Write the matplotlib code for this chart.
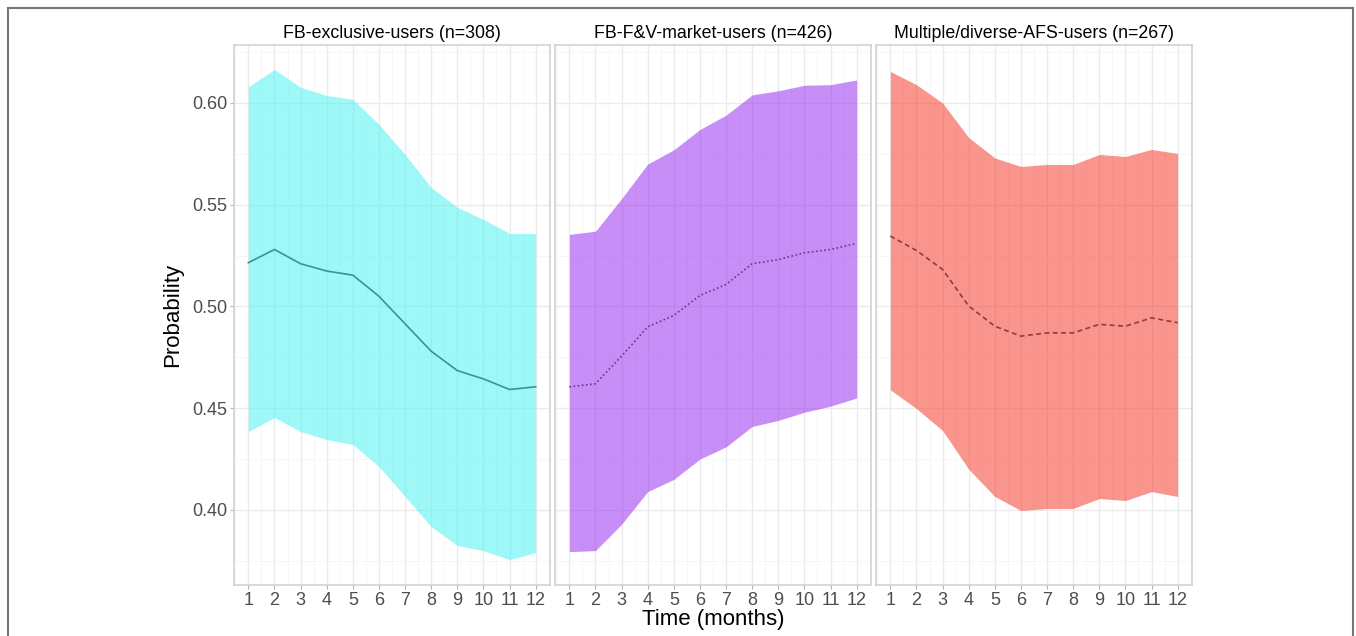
import numpy as np
import matplotlib.pyplot as plt
from matplotlib.patches import Rectangle
from matplotlib.ticker import MultipleLocator

plt.rcParams['font.family'] = ['Liberation Sans', 'DejaVu Sans']

months = list(range(1, 13))

titles = ["FB-exclusive-users (n=308)",
          "FB-F&V-market-users (n=426)",
          "Multiple/diverse-AFS-users (n=267)"]

# FB-exclusive
fb_mean = [0.5215, 0.528, 0.521, 0.5174, 0.5154, 0.505, 0.4915, 0.478, 0.4685, 0.4644, 0.4592, 0.4605]
fb_upper = [0.608, 0.6165, 0.6077, 0.6037, 0.6018, 0.5895, 0.5747, 0.5585, 0.5487, 0.5428, 0.5359, 0.5359]
fb_lower = [0.4385, 0.4454, 0.4385, 0.4346, 0.4322, 0.4213, 0.4066, 0.3918, 0.3825, 0.380, 0.3756, 0.379]

# FB-F&V-market
fv_mean = [0.4605, 0.462, 0.4756, 0.490, 0.4956, 0.5054, 0.5108, 0.521, 0.523, 0.5264, 0.528, 0.531]
fv_upper = [0.5354, 0.537, 0.553, 0.570, 0.577, 0.587, 0.594, 0.604, 0.606, 0.6087, 0.609, 0.6113]
fv_lower = [0.3795, 0.3800, 0.393, 0.409, 0.415, 0.425, 0.431, 0.441, 0.444, 0.448, 0.451, 0.455]

# Multiple/diverse AFS
md_mean = [0.5346, 0.5275, 0.5182, 0.5002, 0.4903, 0.4854, 0.487, 0.487, 0.4912, 0.4903, 0.4944, 0.492]
md_upper = [0.6155, 0.609, 0.600, 0.583, 0.573, 0.5688, 0.5698, 0.5698, 0.5747, 0.5737, 0.5772, 0.5752]
md_lower = [0.459, 0.4498, 0.439, 0.420, 0.4066, 0.3997, 0.4007, 0.4007, 0.4056, 0.4046, 0.409, 0.4066]

groups = [(fb_mean, fb_lower, fb_upper), (fv_mean, fv_lower, fv_upper), (md_mean, md_lower, md_upper)]
fills = ["#41F3F3", "#931FF1", "#F52D1D"]
line_cols = ["#3A9494", "#643A88", "#983A33"]
line_styles = ["-", (0, (1, 1.5)), (0, (3, 2))]

fig = plt.figure(figsize=(13.56, 6.36), dpi=100)

# outer frame
fig.patches.append(Rectangle((8 / 1356, -0.1), (1353 - 8) / 1356, 1.1 - 8 / 636,
                             transform=fig.transFigure, fill=False,
                             edgecolor="#777777", linewidth=1.5))

lefts = [234, 555, 876]
axes = []
for i, (mean, lo, hi) in enumerate(groups):
    ax = fig.add_axes([lefts[i] / 1356, 1 - 585 / 636, 316 / 1356, 540 / 636])
    axes.append(ax)
    ax.set_xlim(0.45, 12.55)
    ax.set_ylim(0.3631, 0.6285)
    ax.xaxis.set_major_locator(MultipleLocator(1))
    ax.xaxis.set_minor_locator(MultipleLocator(0.5))
    ax.yaxis.set_major_locator(MultipleLocator(0.05))
    ax.yaxis.set_minor_locator(MultipleLocator(0.025))
    ax.grid(which="major", color="#EBEBEB", linewidth=1.0)
    ax.grid(which="minor", color="#F5F5F5", linewidth=0.6)
    ax.set_axisbelow(True)

    ax.fill_between(months, lo, hi, color=fills[i], alpha=0.5, linewidth=0, zorder=2)
    ax.plot(months, mean, color=line_cols[i], linestyle=line_styles[i], linewidth=1.2, zorder=3)

    for s in ax.spines.values():
        s.set_color("#D3D3D3")
        s.set_linewidth(1.2)
    ax.tick_params(which="major", length=3, color="#B3B3B3", labelsize=13,
                   labelcolor="#4D4D4D", pad=2)
    ax.tick_params(which="minor", length=0)
    ax.set_xticks(months)
    ax.set_title(titles[i], fontsize=12.8, pad=5)
    if i == 0:
        ax.set_yticks([0.40, 0.45, 0.50, 0.55, 0.60])
        ax.set_yticklabels(["0.40", "0.45", "0.50", "0.55", "0.60"])
        ax.set_ylabel("Probability", fontsize=16, labelpad=6)
    else:
        ax.tick_params(axis="y", which="both", left=False, labelleft=False)

fig.text(713 / 1356, 1 - 620 / 636, "Time (months)", ha="center", va="center", fontsize=16)

fig.savefig("out.png", dpi=100)
